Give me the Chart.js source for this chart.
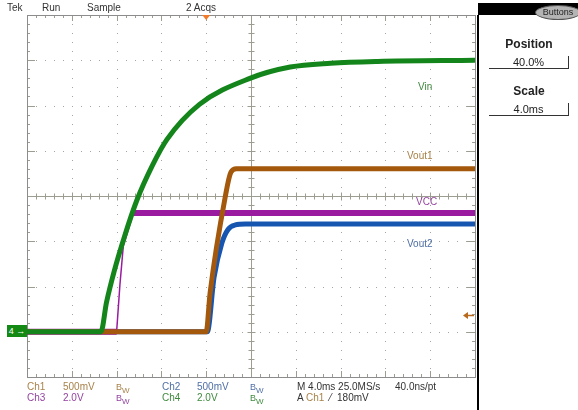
<!DOCTYPE html>
<html>
<head>
<meta charset="utf-8">
<script src="https://cdn.jsdelivr.net/npm/chart.js@4.4.1/dist/chart.umd.min.js"></script>
<style>
body { margin: 0; background: #fff; }
#wrap { position: relative; width: 578px; height: 410px; overflow: hidden;
        font-family: "Liberation Sans Narrow", "Liberation Sans", Arial, sans-serif; }
#scope { position: absolute; left: 0; top: 0; }
.t { position: absolute; white-space: nowrap; font-size: 10px; line-height: 11px; color: #333; }
.ch1 { color: #a8824a; }
.ch2 { color: #4f6fa5; }
.ch3 { color: #9444a0; }
.ch4 { color: #3f8a3f; }
.bw { font-size: 9px; }
.panel { position: absolute; font-family: "Liberation Sans", Arial, sans-serif; text-align: center; color: #222; }
</style>
</head>
<body>
<div id="wrap">
  <canvas id="scope" width="578" height="410"></canvas>

  <!-- header -->
  <div class="t" style="left:7px;top:2px">Tek</div>
  <div class="t" style="left:42px;top:2px">Run</div>
  <div class="t" style="left:87px;top:2px">Sample</div>
  <div class="t" style="left:186px;top:2px">2 Acqs</div>

  <!-- trace labels -->
  <div class="t ch4" style="left:418px;top:81px;font-size:10px">Vin</div>
  <div class="t ch1" style="left:407px;top:150px;font-size:10px">Vout1</div>
  <div class="t ch3" style="left:416px;top:196px;font-size:10px">VCC</div>
  <div class="t ch2" style="left:407px;top:238px;font-size:10px">Vout2</div>

  <!-- ground marker -->
  <div class="t" style="left:7px;top:325px;width:20px;height:12px;background:#148a14;color:#fff;font-size:9px;line-height:12px;text-align:center">4 &#8594;</div>

  <!-- footer -->
  <div class="t ch1" style="left:27px;top:381px">Ch1</div>
  <div class="t ch1" style="left:63px;top:381px">500mV</div>
  <div class="t ch1 bw" style="left:116px;top:382px">B<sub style="font-size:8px">W</sub></div>
  <div class="t ch2" style="left:162px;top:381px">Ch2</div>
  <div class="t ch2" style="left:197px;top:381px">500mV</div>
  <div class="t ch2 bw" style="left:250px;top:382px">B<sub style="font-size:8px">W</sub></div>
  <div class="t ch3" style="left:27px;top:392px">Ch3</div>
  <div class="t ch3" style="left:63px;top:392px">2.0V</div>
  <div class="t ch3 bw" style="left:116px;top:393px">B<sub style="font-size:8px">W</sub></div>
  <div class="t ch4" style="left:162px;top:392px">Ch4</div>
  <div class="t ch4" style="left:197px;top:392px">2.0V</div>
  <div class="t ch4 bw" style="left:250px;top:393px">B<sub style="font-size:8px">W</sub></div>
  <div class="t" style="left:297px;top:381px">M 4.0ms 25.0MS/s</div>
  <div class="t" style="left:395px;top:381px">40.0ns/pt</div>
  <div class="t" style="left:297px;top:392px">A <span class="ch1">Ch1</span> &nbsp;&#8260;&nbsp; 180mV</div>

  <!-- side panel -->
  <div style="position:absolute;left:478px;top:3px;width:100px;height:12px;background:#000"></div>
  <div style="position:absolute;left:477px;top:15px;width:2px;height:395px;background:#000"></div>
  <div class="panel" style="left:535px;top:5px;width:44px;height:13px;border-radius:50%;background:#b4b4b4;border:1px solid #555;font-size:9px;line-height:13px">Buttons</div>
  <div class="panel" style="left:490px;top:37px;width:78px;font-size:12px;font-weight:bold">Position</div>
  <div class="panel" style="left:489px;top:56px;width:79px;height:12px;border-bottom:1px solid #333;border-right:1px solid #333;font-size:11px;line-height:12px">40.0%</div>
  <div class="panel" style="left:490px;top:84px;width:78px;font-size:12px;font-weight:bold">Scale</div>
  <div class="panel" style="left:489px;top:103px;width:79px;height:12px;border-bottom:1px solid #333;border-right:1px solid #333;font-size:11px;line-height:12px">4.0ms</div>
</div>

<script>
// Horizontal: time in ms, 4 ms/div, 10 divisions, trigger at 40%
const timeMin = -16;
const timeMax = 24;
const msPerDiv = 4;

// Vertical: 8 divisions, every channel grounded one division above the bottom
const groundDiv = 1;
const ch1Scale = 0.5;  // V/div  Vout1
const ch2Scale = 0.5;  // V/div  Vout2
const ch3Scale = 2.0;  // V/div  VCC
const ch4Scale = 2.0;  // V/div  Vin
const ch1TriggerLevel = 0.18;

// Vin (Ch4)
const vinTime  = [-16, -9.4, -8.9, -8.2, -7.3, -6.2, -4.8, -3.5, -0.6, 3.9, 7.5, 11.1, 15.3, 24];
const vinVolts = [0, 0, 1.3, 2.7, 4.2, 5.8, 7.35, 8.5, 10.05, 11.2, 11.7, 11.87, 11.95, 12.0];

// VCC (Ch3)
const vccTime  = [-16, -8.0, -7.7, -7.4, -6.5, 24];
const vccVolts = [0, 0, 2.1, 3.8, 5.25, 5.25];

// Vout1 (Ch1)
const vout1Time  = [-16, 0, 0.35, 1.7, 2.2, 2.7, 3.4, 24];
const vout1Volts = [0, 0, 0.43, 1.49, 1.76, 1.80, 1.80, 1.80];

// Vout2 (Ch2)
const vout2Time  = [-16, 0.1, 0.7, 1.4, 1.95, 2.6, 3.5, 24];
const vout2Volts = [0, 0, 0.6, 0.98, 1.13, 1.18, 1.19, 1.19];

function toPoints(times, volts, scale) {
    return times.map((t, i) => ({ x: t, y: groundDiv + volts[i] / scale }));
}

// Graticule: dotted grid, centre cross with ticks, edge ticks
const graticule = {
    id: 'graticule',
    beforeDatasetsDraw(chart) {
        const { ctx, chartArea: a, scales: { x, y } } = chart;
        const divX = d => x.getPixelForValue(timeMin + d * msPerDiv);
        const divY = d => y.getPixelForValue(d);
        ctx.save();

        // dotted lines
        ctx.fillStyle = '#a4a4a4';
        for (let d = 1; d < 10; d++) {
            if (d === 5) continue;
            const px = Math.round(divX(d));
            for (let s = 1; s < 40; s++) ctx.fillRect(px, Math.round(divY(s * 0.2)), 1, 1);
        }
        for (let d = 1; d < 8; d++) {
            if (d === 4) continue;
            const py = Math.round(divY(d));
            for (let s = 1; s < 50; s++) ctx.fillRect(Math.round(divX(s * 0.2)), py, 1, 1);
        }

        ctx.strokeStyle = '#9c9c90';
        ctx.lineWidth = 1;
        ctx.beginPath();
        // centre cross
        const cx = Math.round(divX(5)) + 0.5;
        const cy = Math.round(divY(4)) + 0.5;
        ctx.moveTo(a.left, cy); ctx.lineTo(a.right, cy);
        ctx.moveTo(cx, a.top); ctx.lineTo(cx, a.bottom);
        for (let s = 1; s < 50; s++) {
            const px = Math.round(divX(s * 0.2)) + 0.5;
            const len = s % 5 === 0 ? 4 : 3;
            ctx.moveTo(px, cy - len); ctx.lineTo(px, cy + len);
            // top and bottom edges
            const e = s % 5 === 0 ? 6 : 3;
            ctx.moveTo(px, a.top); ctx.lineTo(px, a.top + e);
            ctx.moveTo(px, a.bottom); ctx.lineTo(px, a.bottom - e);
        }
        for (let s = 1; s < 40; s++) {
            const py = Math.round(divY(s * 0.2)) + 0.5;
            const len = s % 5 === 0 ? 4 : 3;
            ctx.moveTo(cx - len, py); ctx.lineTo(cx + len, py);
            const e = s % 5 === 0 ? 8 : 3;
            ctx.moveTo(a.left, py); ctx.lineTo(a.left + e, py);
            ctx.moveTo(a.right, py); ctx.lineTo(a.right - e, py);
        }
        ctx.stroke();

        // frame
        ctx.strokeStyle = '#8c8c8c';
        ctx.strokeRect(Math.round(a.left) + 0.5, Math.round(a.top) + 0.5,
                       Math.round(a.right - a.left), Math.round(a.bottom - a.top));
        ctx.restore();
    },
    afterDatasetsDraw(chart) {
        const { ctx, chartArea: a, scales: { x, y } } = chart;
        ctx.save();
        // trigger position marker
        const tx = x.getPixelForValue(0);
        ctx.fillStyle = '#f27a28';
        ctx.beginPath();
        ctx.moveTo(tx - 4, a.top); ctx.lineTo(tx + 4, a.top); ctx.lineTo(tx, a.top + 5);
        ctx.closePath(); ctx.fill();

        // trigger level arrow (Ch1)
        const ly = Math.round(y.getPixelForValue(groundDiv + ch1TriggerLevel / ch1Scale)) + 0.5;
        ctx.strokeStyle = '#b8691c';
        ctx.fillStyle = '#b8691c';
        ctx.lineWidth = 1.5;
        ctx.beginPath();
        ctx.moveTo(a.right - 8, ly); ctx.lineTo(a.right - 1, ly);
        ctx.stroke();
        ctx.beginPath();
        ctx.moveTo(a.right - 12, ly); ctx.lineTo(a.right - 7, ly - 3.5); ctx.lineTo(a.right - 7, ly + 3.5);
        ctx.closePath(); ctx.fill();
        ctx.restore();
    }
};

const ctx = document.getElementById('scope').getContext('2d');
const scopeChart = new Chart(ctx, {
    type: 'line',
    data: {
        datasets: [{
            label: 'Vin',
            data: toPoints(vinTime, vinVolts, ch4Scale),
            borderColor: '#13851a',
            borderWidth: 5,
            cubicInterpolationMode: 'monotone'
        }, {
            label: 'Vout1',
            data: toPoints(vout1Time, vout1Volts, ch1Scale),
            borderColor: '#a3580c',
            borderWidth: 5,
            cubicInterpolationMode: 'monotone'
        }, {
            label: 'VCC',
            data: toPoints(vccTime, vccVolts, ch3Scale),
            borderColor: '#9a1aa0',
            borderWidth: 6,
            tension: 0,
            segment: {
                borderWidth: c => (c.p0DataIndex >= 1 && c.p0DataIndex <= 3) ? 1.5 : 6
            }
        }, {
            label: 'Vout2',
            data: toPoints(vout2Time, vout2Volts, ch2Scale),
            borderColor: '#1656b0',
            borderWidth: 5,
            cubicInterpolationMode: 'monotone'
        }]
    },
    options: {
        responsive: false,
        animation: false,
        events: [],
        layout: {
            padding: { left: 27, right: 103, top: 15, bottom: 33 }
        },
        elements: {
            point: { radius: 0 },
            line: { borderCapStyle: 'butt', borderJoinStyle: 'round' }
        },
        plugins: {
            legend: { display: false },
            tooltip: { enabled: false }
        },
        scales: {
            x: { type: 'linear', min: timeMin, max: timeMax, display: false },
            y: { type: 'linear', min: 0, max: 8, display: false }
        }
    },
    plugins: [graticule]
});
</script>
</body>
</html>
